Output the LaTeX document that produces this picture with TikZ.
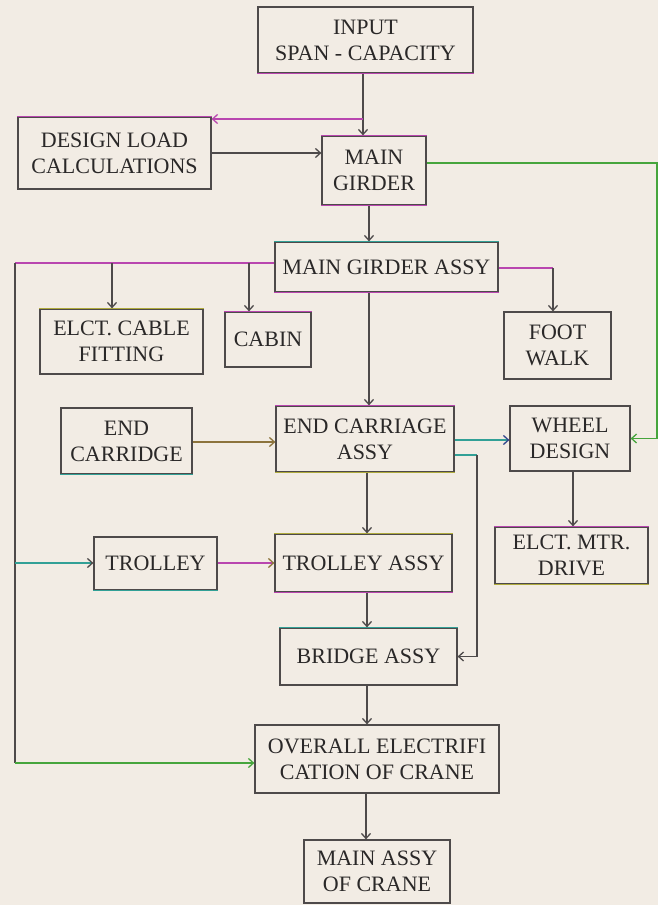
\documentclass[tikz,border=0pt]{standalone}
\usepackage{fontspec}
\setmainfont{Liberation Serif}
\usetikzlibrary{arrows.meta}
\definecolor{bg}{RGB}{242,236,228}
\definecolor{linegray}{RGB}{78,74,74}
\definecolor{textgray}{RGB}{42,40,40}
\definecolor{mag}{RGB}{185,70,175}
\definecolor{grn}{RGB}{70,165,60}
\definecolor{tealc}{RGB}{50,160,150}
\definecolor{olivec}{RGB}{140,115,60}
\definecolor{yelc}{RGB}{175,170,60}
\definecolor{bluec}{RGB}{50,70,140}
\tikzset{
  box/.style={draw=linegray, line width=1.2pt, align=center, inner sep=0pt,
    text=textgray, font=\fontsize{22}{26}\selectfont},
  ln/.style={draw=linegray, line width=1.3pt},
  arr/.style={draw=linegray, line width=1.3pt, -{Straight Barb[length=5pt,width=9pt]}},
  topedge/.style={append after command={(\tikzlastnode.north west) edge[draw=#1, line width=1.5pt] (\tikzlastnode.north east)}},
  botedge/.style={append after command={(\tikzlastnode.south west) edge[draw=#1, line width=1.5pt] (\tikzlastnode.south east)}}
}
\begin{document}
\begin{tikzpicture}[x=1pt,y=1pt]
\fill[bg] (0,0) rectangle (658,-905);
\useasboundingbox (0,0) rectangle (658,-905);

% nodes
\node[box, botedge=mag, minimum width=215pt, minimum height=66pt] (inp) at (365.5,-40) {INPUT\\SPAN - CAPACITY};
\node[box, topedge=mag, minimum width=193pt, minimum height=72pt] (dl) at (114.5,-153) {DESIGN LOAD\\CALCULATIONS};
\node[box, topedge=mag, botedge=mag, minimum width=104pt, minimum height=69pt] (mg) at (374,-170.5) {MAIN\\GIRDER};
\node[box, topedge=tealc, botedge=mag, minimum width=223pt, minimum height=50pt] (mga) at (386.5,-267) {MAIN GIRDER ASSY};
\node[box, topedge=yelc, minimum width=163pt, minimum height=65pt] (ecf) at (121.5,-341.5) {ELCT. CABLE\\FITTING};
\node[box, topedge=mag, minimum width=86pt, minimum height=55pt] (cab) at (268,-339.5) {CABIN};
\node[box, minimum width=107pt, minimum height=67pt] (fw) at (557.5,-345.5) {FOOT\\WALK};
\node[box, botedge=tealc, minimum width=131pt, minimum height=66pt] (ecd) at (126.5,-441) {END\\CARRIDGE};
\node[box, topedge=mag, botedge=yelc, minimum width=178pt, minimum height=66pt] (eca) at (365,-439) {END CARRIAGE\\ASSY};
\node[box, minimum width=120pt, minimum height=65pt] (wd) at (570,-438.5) {WHEEL\\DESIGN};
\node[box, topedge=mag, botedge=yelc, minimum width=153pt, minimum height=57pt] (emd) at (571.5,-555.5) {ELCT. MTR.\\DRIVE};
\node[box, botedge=tealc, minimum width=123pt, minimum height=53pt] (tr) at (155.5,-563.5) {TROLLEY};
\node[box, topedge=yelc, botedge=mag, minimum width=177pt, minimum height=58pt] (ta) at (363.5,-563) {TROLLEY ASSY};
\node[box, topedge=tealc, minimum width=177pt, minimum height=57pt] (ba) at (368.5,-656.5) {BRIDGE ASSY};
\node[box, minimum width=244pt, minimum height=68pt] (ov) at (377,-759) {OVERALL ELECTRIFI\\CATION OF CRANE};
\node[box, minimum width=146pt, minimum height=63pt] (ma) at (377,-871.5) {MAIN ASSY\\OF CRANE};

% helper coordinates
\coordinate (j1) at (363,-119);
\coordinate (rc) at (657,-163);
\coordinate (lt) at (15,-263);
\coordinate (lb) at (15,-763);
\coordinate (b1) at (112,-263);
\coordinate (b2) at (249,-263);
\coordinate (b3) at (553,-268);
\coordinate (b4) at (15,-563);
\coordinate (rb) at (477,-455);
\coordinate (v1) at (369,-292);

% connectors
\draw[arr] (inp.south -| j1) -- (mg.north -| j1);
\draw[arr, draw=mag] (j1) -- (j1 -| dl.east);
\draw[arr] (dl.east) -- (dl.east -| mg.west);
\draw[arr, draw=grn] (mg.east |- rc) -- (rc) |- (wd.east);
\draw[arr] ([xshift=-5pt]mg.south) -- ([xshift=-5pt]mg.south |- mga.north);
\draw[ln, draw=mag] (mga.west |- lt) -- (lt);
\draw[ln] (lt) -- (lb);
\draw[arr, draw=grn] (lb) -- (lb -| ov.west);
\draw[arr] (b1) -- (b1 |- ecf.north);
\draw[arr] (b2) -- (b2 |- cab.north);
\draw[ln, draw=mag] (mga.east |- b3) -- (b3);
\draw[arr] (b3) -- (b3 |- fw.north);
\draw[arr] (mga.south -| v1) -- (eca.north -| v1);
\draw[arr, draw=olivec] (ecd.east |- 0,-442) -- (eca.west |- 0,-442);
\draw[tealc, line width=1.3pt, -{Straight Barb[length=5pt,width=9pt,color=bluec]}] (eca.east |- 0,-440) -- (wd.west |- 0,-440);
\draw[ln, draw=tealc] (eca.east |- rb) -- (rb);
\draw[arr] (rb) |- (ba.east);
\draw[arr] ([xshift=3pt]wd.south) -- ([xshift=3pt]wd.south |- emd.north);
\draw[arr] ([xshift=2pt]eca.south) -- ([xshift=2pt]eca.south |- ta.north);
\draw[tealc, line width=1.3pt, -{Straight Barb[length=5pt,width=9pt,color=linegray]}] (b4) -- (b4 -| tr.west);
\draw[mag, line width=1.3pt, -{Straight Barb[length=5pt,width=9pt,color=olivec]}] (b4 -| tr.east) -- (b4 -| ta.west);
\draw[arr] ([xshift=3.5pt]ta.south) -- ([xshift=3.5pt]ta.south |- ba.north);
\draw[arr] ([xshift=-1.5pt]ba.south) -- ([xshift=-1.5pt]ba.south |- ov.north);
\draw[arr] ([xshift=-11pt]ov.south) -- ([xshift=-11pt]ov.south |- ma.north);
\end{tikzpicture}
\end{document}
